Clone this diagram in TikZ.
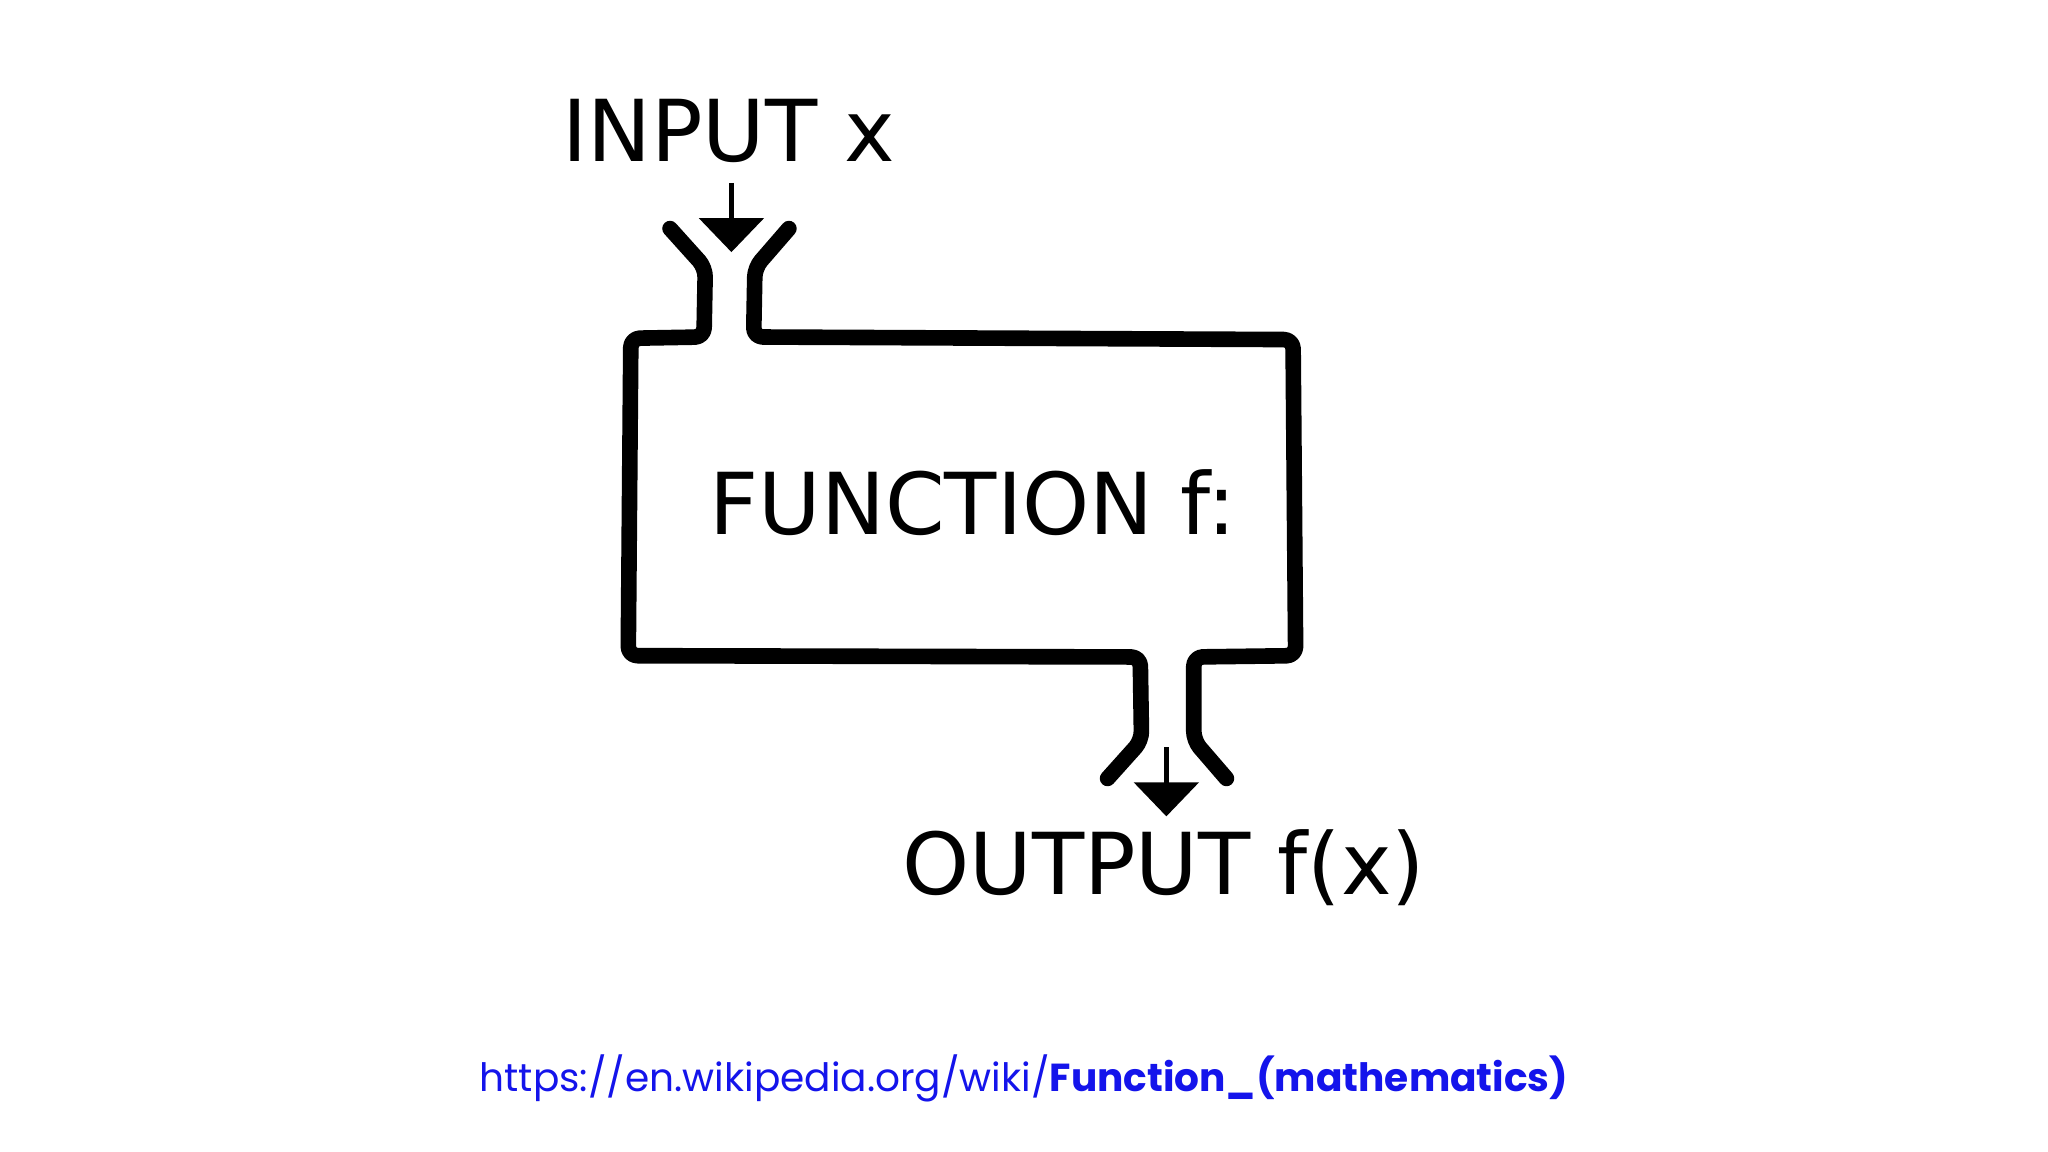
\documentclass[tikz,border=0pt]{standalone}
\usepackage{fontspec}
\setmainfont{DejaVu Sans}
\newfontfamily\popfont{Poppins}
\definecolor{linkblue}{RGB}{20,20,235}
\begin{document}
\begin{tikzpicture}[x=0.01cm,y=-0.01cm,
  wall/.style={line width=3.4pt,line join=round,line cap=round,rounded corners=2pt},
  tip/.style={fill=black},
  stem/.style={line width=1pt},
  lbl/.style={font=\fontsize{18.6}{22}\selectfont,inner sep=0pt}]
\useasboundingbox[fill=white] (0,0) rectangle (1568,882);
\draw[wall] (513,175) -- (540,205) -- (539,258) -- (483,259) -- (481,502) -- (873,503) -- (874,567) -- (848,596);
\draw[wall] (604,175) -- (578,205) -- (577,258) -- (990,260) -- (992,502) -- (914,503) -- (914,567) -- (939,596);
\coordinate (i1) at (560,140); \coordinate (i2) at (560,170);
\draw[stem] (i1) -- (i2);
\fill[tip] (535,167) -- (585,167) -- (560,193) -- cycle;
\coordinate (o1) at (893,572); \coordinate (o2) at (893,602);
\draw[stem] (o1) -- (o2);
\fill[tip] (868,599) -- (918,599) -- (893,625) -- cycle;
\node[lbl] (in) at (558,100) {INPUT x};
\node[lbl] (fn) at (745,385) {FUNCTION f:};
\node[lbl] (out) at (891,664) {OUTPUT f(x)};
\node[inner sep=0pt,text=linkblue,font=\popfont\fontsize{8.5}{10}\selectfont] (url) at (784,826) {https://en.wikipedia.org/wiki/\textbf{Function\_(mathematics)}};
\end{tikzpicture}
\end{document}
